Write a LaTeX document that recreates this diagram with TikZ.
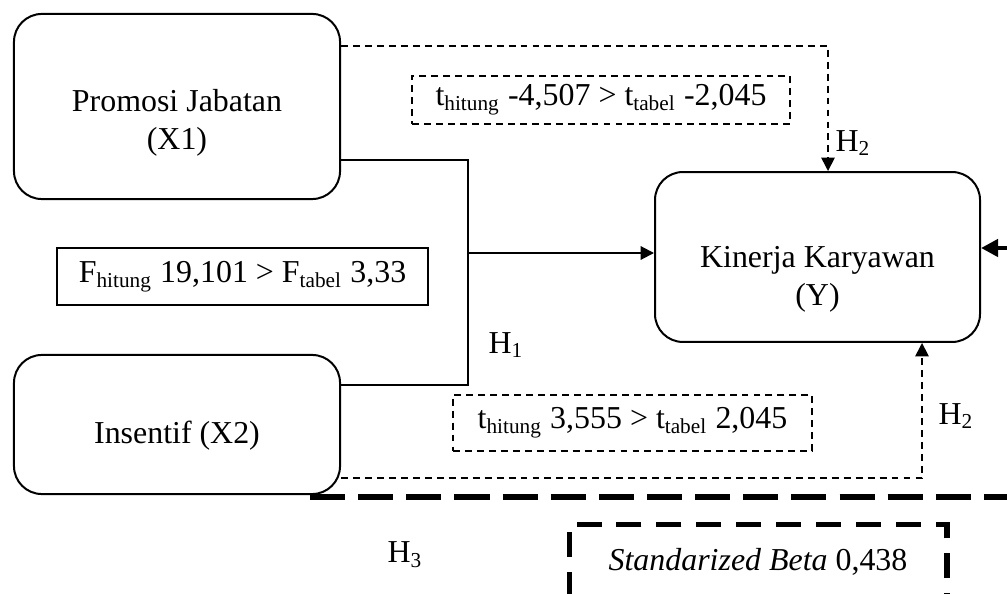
\documentclass[tikz,border=0pt]{standalone}
\usepackage{fontspec}
\setmainfont{Liberation Serif}
\usetikzlibrary{positioning, arrows.meta}
\tikzset{
    >={Triangle[length=5pt,width=5pt]},
    every node/.style={font=\fontsize{12}{14.5}\selectfont},
    varbox/.style={draw, line width=0.75pt, rounded corners=10.5pt},
    boxtext/.style={align=center, inner sep=0pt},
    ftest/.style={draw, line width=0.75pt},
    ttest/.style={draw, line width=0.6pt, dash pattern=on 2.6pt off 1.9pt},
    betabox/.style={draw, line width=1.9pt, dash pattern=on 9.4pt off 5.6pt},
    link/.style={line width=0.75pt},
    dashlink/.style={line width=0.6pt, dash pattern=on 2.6pt off 1.9pt},
    heavydash/.style={line width=1.9pt, dash pattern=on 13.2pt off 4.9pt},
    bigarrow/.style={line width=1.6pt, -{Triangle[length=6.4pt,width=6.4pt]}},
}
\newcommand{\subs}[1]{\textsubscript{#1}}

\begin{document}
\begin{tikzpicture}[x=0.376pt, y=-0.376pt]
    \useasboundingbox (0,0) rectangle (1007,594);
    \clip (0,0) rectangle (1007,594);

    % variables
    \node[varbox, minimum width=122.6pt, minimum height=69.6pt] (x1) at (177,106.5) {};
    \node[varbox, minimum width=122.6pt, minimum height=52.3pt] (x2) at (177,424.5) {};
    \node[varbox, minimum width=122.2pt, minimum height=63.9pt] (y)  at (817.5,257) {};
    \node[boxtext] (x1t) at ([yshift=-6.2pt]x1.center) {Promosi Jabatan\\(X1)};
    \node[boxtext] (x2t) at ([yshift=-4.2pt]x2.center) {Insentif (X2)};
    \node[boxtext] (yt)  at ([yshift=-8.4pt]y.center) {Kinerja Karyawan\\(Y)};

    % test results
    \node[ftest, minimum width=139.5pt, minimum height=21.4pt] (fres) at (242.5,276.5)
        {F\subs{hitung} 19,101 > F\subs{tabel} 3,33};
    \node[ttest, minimum width=142.1pt, minimum height=18pt] (tres1) at (601,100)
        {t\subs{hitung} -4,507 > t\subs{tabel} -2,045};
    \node[ttest, minimum width=135pt, minimum height=21.1pt] (tres2) at (632.5,423)
        {t\subs{hitung} 3,555 > t\subs{tabel} 2,045};
    \node[betabox, minimum width=142.1pt, minimum height=28pt] (beta) at (758,562)
        {\textit{Standarized Beta} 0,438};

    % hypothesis labels
    \node (h1)  at (506,345) {H\subs{1}};
    \node (h2a) at (853,143) {H\subs{2}};
    \node (h2b) at (956,416) {H\subs{2}};
    \node (h3)  at (405,555) {H\subs{3}};

    % connectors
    \coordinate (jtop) at (468,160);
    \coordinate (jbot) at (468,385);
    \coordinate (jmid) at (468,253);
    \coordinate (dtop) at (828,46);
    \coordinate (dbot) at (922,478);
    \coordinate (rin)  at (1012,248);
    \coordinate (hl)   at (310,497);
    \coordinate (hr)   at (1012,497);

    \draw[link] (x1.east |- jtop) -- (jtop) -- (jbot) -- (x2.east |- jbot);
    \draw[link, ->] (jmid) -- (y.west |- jmid);
    \draw[dashlink, ->] (x1.east |- dtop) -- (dtop) -- (dtop |- y.north);
    \draw[dashlink, ->] (x2.east |- dbot) -- (dbot) -- (dbot |- y.south);
    \draw[bigarrow] (rin) -- (y.east |- rin);
    \draw[heavydash] (hl) -- (hr);
\end{tikzpicture}
\end{document}
